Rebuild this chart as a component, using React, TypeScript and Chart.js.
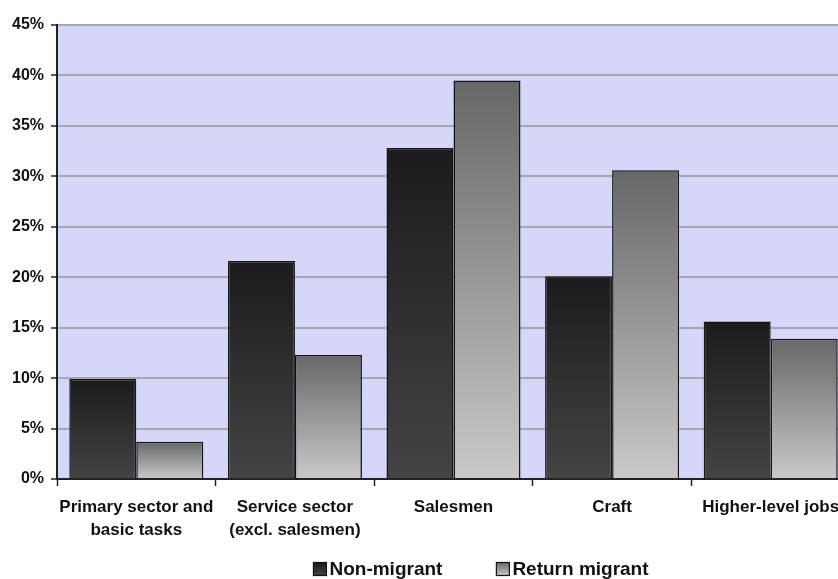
import React, { useEffect, useRef } from 'react';
import { Chart, registerables } from 'chart.js';

Chart.register(...registerables);

const categories: (string | string[])[] = [
  ['Primary sector and', 'basic tasks'],
  ['Service sector', '(excl. salesmen)'],
  'Salesmen',
  'Craft',
  'Higher-level jobs',
];
const nonMigrant = [9.9, 21.6, 32.8, 20.1, 15.6];
const returnMigrant = [3.7, 12.3, 39.5, 30.6, 13.9];
const seriesNames = ['Non-migrant', 'Return migrant'];
const yMax = 45;
const yStep = 5;

const FONT = '"Liberation Sans", Arial, sans-serif';
const darkStops = ['#1b1b1b', '#444444'];
const lightStops = ['#676767', '#c9c9c9'];

function gradFor(stops: string[]) {
  return (ctx: any) => {
    const chart = ctx.chart;
    if (!chart.chartArea || ctx.raw == null) return stops[1];
    const ys = chart.scales.y;
    const top = ys.getPixelForValue(ctx.raw);
    const bot = ys.getPixelForValue(0);
    if (!isFinite(top) || !isFinite(bot) || top === bot) return stops[1];
    const g = chart.ctx.createLinearGradient(0, top, 0, bot);
    g.addColorStop(0, stops[0]);
    g.addColorStop(1, stops[1]);
    return g;
  };
}

const bgPlugin = {
  id: 'plotBg',
  beforeDraw(chart: any) {
    const { ctx, chartArea } = chart;
    if (!chartArea) return;
    ctx.save();
    ctx.fillStyle = '#d6d6f8';
    ctx.fillRect(chartArea.left, chartArea.top, chartArea.right - chartArea.left, chartArea.bottom - chartArea.top);
    ctx.restore();
  },
};

const legendPlugin = {
  id: 'customLegend',
  afterDraw(chart: any) {
    const ctx = chart.ctx;
    ctx.save();
    ctx.font = `bold 19px ${FONT}`;
    ctx.textBaseline = 'middle';
    const box = 13;
    const gapBoxText = 3;
    const gapItems = 54;
    const widths = seriesNames.map((n) => box + gapBoxText + ctx.measureText(n).width);
    const total = widths[0] + gapItems + widths[1];
    const centerX = 481;
    const cy = 569;
    let x = centerX - total / 2;
    const stopsList = [darkStops, lightStops];
    seriesNames.forEach((name, i) => {
      const g = ctx.createLinearGradient(0, cy - box / 2, 0, cy + box / 2);
      g.addColorStop(0, stopsList[i][0]);
      g.addColorStop(1, stopsList[i][1]);
      ctx.fillStyle = g;
      ctx.fillRect(x, cy - box / 2, box, box);
      ctx.strokeStyle = '#111';
      ctx.lineWidth = 1.2;
      ctx.strokeRect(x, cy - box / 2, box, box);
      ctx.fillStyle = '#111';
      ctx.textAlign = 'left';
      ctx.fillText(name, x + box + gapBoxText, cy + 1);
      x += widths[i] + gapItems;
    });
    ctx.restore();
  },
};

export default function App() {
  const ref = useRef<HTMLCanvasElement | null>(null);
  useEffect(() => {
    if (!ref.current) return;
    const chart = new Chart(ref.current, {
      type: 'bar',
      data: {
        labels: categories,
        datasets: [
          {
            label: seriesNames[0],
            data: nonMigrant,
            backgroundColor: gradFor(darkStops),
            borderColor: '#141414',
            borderWidth: 1.5,
            categoryPercentage: 0.845,
            barPercentage: 1,
          },
          {
            label: seriesNames[1],
            data: returnMigrant,
            backgroundColor: gradFor(lightStops),
            borderColor: '#141414',
            borderWidth: 1.5,
            categoryPercentage: 0.845,
            barPercentage: 1,
          },
        ],
      },
      options: {
        animation: false,
        responsive: false,
        maintainAspectRatio: false,
        layout: { padding: { left: 0, top: 25, right: 2, bottom: 0 } },
        plugins: {
          legend: { display: false },
          tooltip: { enabled: false },
        },
        scales: {
          x: {
            offset: true,
            grid: {
              offset: true,
              drawOnChartArea: false,
              drawTicks: true,
              tickLength: 7,
              tickColor: '#222',
              tickWidth: 1.5,
            },
            border: { display: true, color: '#222', width: 2 },
            ticks: {
              color: '#111',
              font: { family: FONT, size: 17, weight: 'bold', lineHeight: 1.35 },
              padding: 10,
              maxRotation: 0,
              autoSkip: false,
            },
            afterFit(scale: any) {
              scale.height = 100;
            },
          },
          y: {
            min: 0,
            max: yMax,
            ticks: {
              stepSize: yStep,
              color: '#111',
              font: { family: FONT, size: 16, weight: 'bold' },
              padding: 7,
              callback: (v: any) => `${v}%`,
            },
            grid: {
              color: '#a6a6b0',
              lineWidth: 2,
              drawTicks: true,
              tickLength: 6,
              tickColor: '#222',
              tickWidth: 1.5,
            },
            border: { display: true, color: '#222', width: 2 },
            afterFit(scale: any) {
              scale.width = 57;
            },
          },
        },
      },
      plugins: [bgPlugin, legendPlugin],
    });
    return () => chart.destroy();
  }, []);

  return (
    <div
      style={{
        position: 'absolute',
        left: 0,
        top: 0,
        width: 838,
        height: 579,
        overflow: 'hidden',
        background: '#ffffff',
      }}
    >
      <canvas ref={ref} width={852} height={579} style={{ display: 'block' }} />
    </div>
  );
}
